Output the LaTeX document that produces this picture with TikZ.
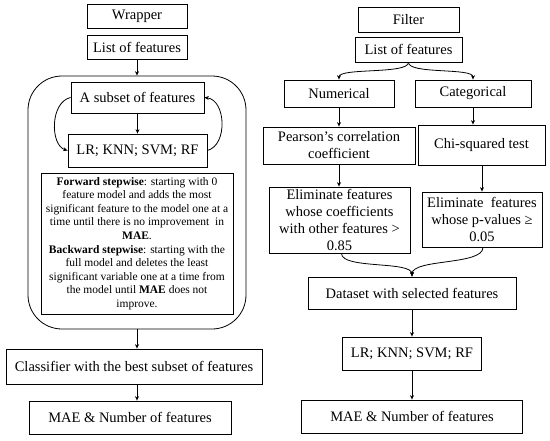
\documentclass[tikz,border=0pt]{standalone}
\usepackage{fontspec}
\setmainfont{Liberation Serif}
\usetikzlibrary{arrows.meta}
\begin{document}
\begin{tikzpicture}[x=1pt,y=-1pt,
  every node/.style={font=\fontsize{14.5}{17}\selectfont},
  box/.style={draw, line width=0.8pt, inner sep=1pt, align=center},
  small/.style={font=\fontsize{11.5}{13.6}\selectfont},
  arr/.style={line width=0.8pt, -{Stealth[length=4.5pt,width=4pt]}},
  ln/.style={line width=0.8pt}]
\useasboundingbox (0,0) rectangle (550,440);
% ---------- Wrapper side ----------
\node[box, minimum width=100pt, minimum height=24pt] (wrap) at (137,16) {Wrapper};
\node[box, minimum width=100pt, minimum height=24pt] (listL) at (137,47) {List of features};
\node[draw, line width=0.8pt, rounded corners=34pt, minimum width=218pt, minimum height=253pt] (round) at (137,202.5) {};
\node[box, minimum width=133pt, minimum height=31pt] (subset) at (137.5,97.5) {A subset of features};
\node[box, minimum width=139pt, minimum height=33pt] (lrL) at (137.5,150.5) {LR; KNN; SVM; RF};
\node[box, small, minimum width=192pt, minimum height=141pt] (step) at (137,243.5) {\textbf{Forward stepwise}: starting with 0\\ feature model and adds the most\\ significant feature to the model one at a\\ time until there is no improvement~ in\\ \textbf{MAE}.\\ \textbf{Backward stepwise}: starting with the\\ full model and deletes the least\\ significant variable one at a time from\\ the model until \textbf{MAE} does not\\ improve.};
\node[box, minimum width=256pt, minimum height=35pt] (classif) at (134,366.5) {Classifier with the best subset of features};
\node[box, minimum width=202pt, minimum height=33pt] (maeL) at (130,417.5) {MAE \& Number of features};
\draw[arr] (listL.south) -- (round.north);
\draw[arr] (subset.south) -- (lrL.north);
\draw[arr] (subset.west) .. controls (50,102) and (50,145) .. (lrL.west);
\draw[arr] (lrL.east) .. controls (228,145) and (226,100) .. (subset.east);
\draw[arr] (round.south) -- (round.south |- classif.north);
\draw[arr] (round.south |- classif.south) -- (round.south |- maeL.north);
% ---------- Filter side ----------
\node[box, minimum width=101pt, minimum height=25pt] (filter) at (408.5,19.5) {Filter};
\node[box, minimum width=107pt, minimum height=25pt] (listR) at (408.5,49.5) {List of features};
\node[box, minimum width=110pt, minimum height=27pt] (num) at (339,93.5) {Numerical};
\node[box, minimum width=116pt, minimum height=27pt] (cat) at (473,93.5) {Categorical};
\node[box, minimum width=152pt, minimum height=37pt] (pear) at (339,145.5) {Pearson’s correlation\\ coefficient};
\node[box, minimum width=127pt, minimum height=40pt] (chi) at (481.5,145) {Chi-squared test};
\node[box, minimum width=141pt, minimum height=66pt] (elimL) at (339.5,220) {Eliminate features\\ whose coefficients\\ with other features >\\ 0.85};
\node[box, minimum width=120pt, minimum height=55pt] (elimR) at (482,219.5) {Eliminate~ features\\ whose p-values ≥\\ 0.05};
\node[box, minimum width=208pt, minimum height=32pt] (data) at (412,293) {Dataset with selected features};
\node[box, minimum width=139pt, minimum height=33pt] (lrR) at (412,353.5) {LR; KNN; SVM; RF};
\node[box, minimum width=221pt, minimum height=33pt] (maeR) at (412,416.5) {MAE \& Number of features};
\draw[arr] (listR.south) .. controls +(0,12) and +(0,-12) .. (num.north);
\draw[arr] (listR.south) .. controls +(0,12) and +(0,-12) .. (cat.north);
\draw[arr] (num.south) -- (pear.north);
\draw[arr] (cat.south) -- (cat.south |- chi.north);
\draw[arr] (pear.south) -- (pear.south |- elimL.north);
\draw[arr] (elimR.north |- chi.south) -- (elimR.north);
\draw[arr] ([xshift=2pt]elimL.south) .. controls +(0,16) and +(0,-16) .. (data.north);
\draw[arr] ([xshift=1pt]elimR.south) .. controls +(0,18) and +(0,-18) .. (data.north);
\draw[arr] (data.south) -- (lrR.north);
\draw[arr] (lrR.south) -- (maeR.north);
\end{tikzpicture}
\end{document}
